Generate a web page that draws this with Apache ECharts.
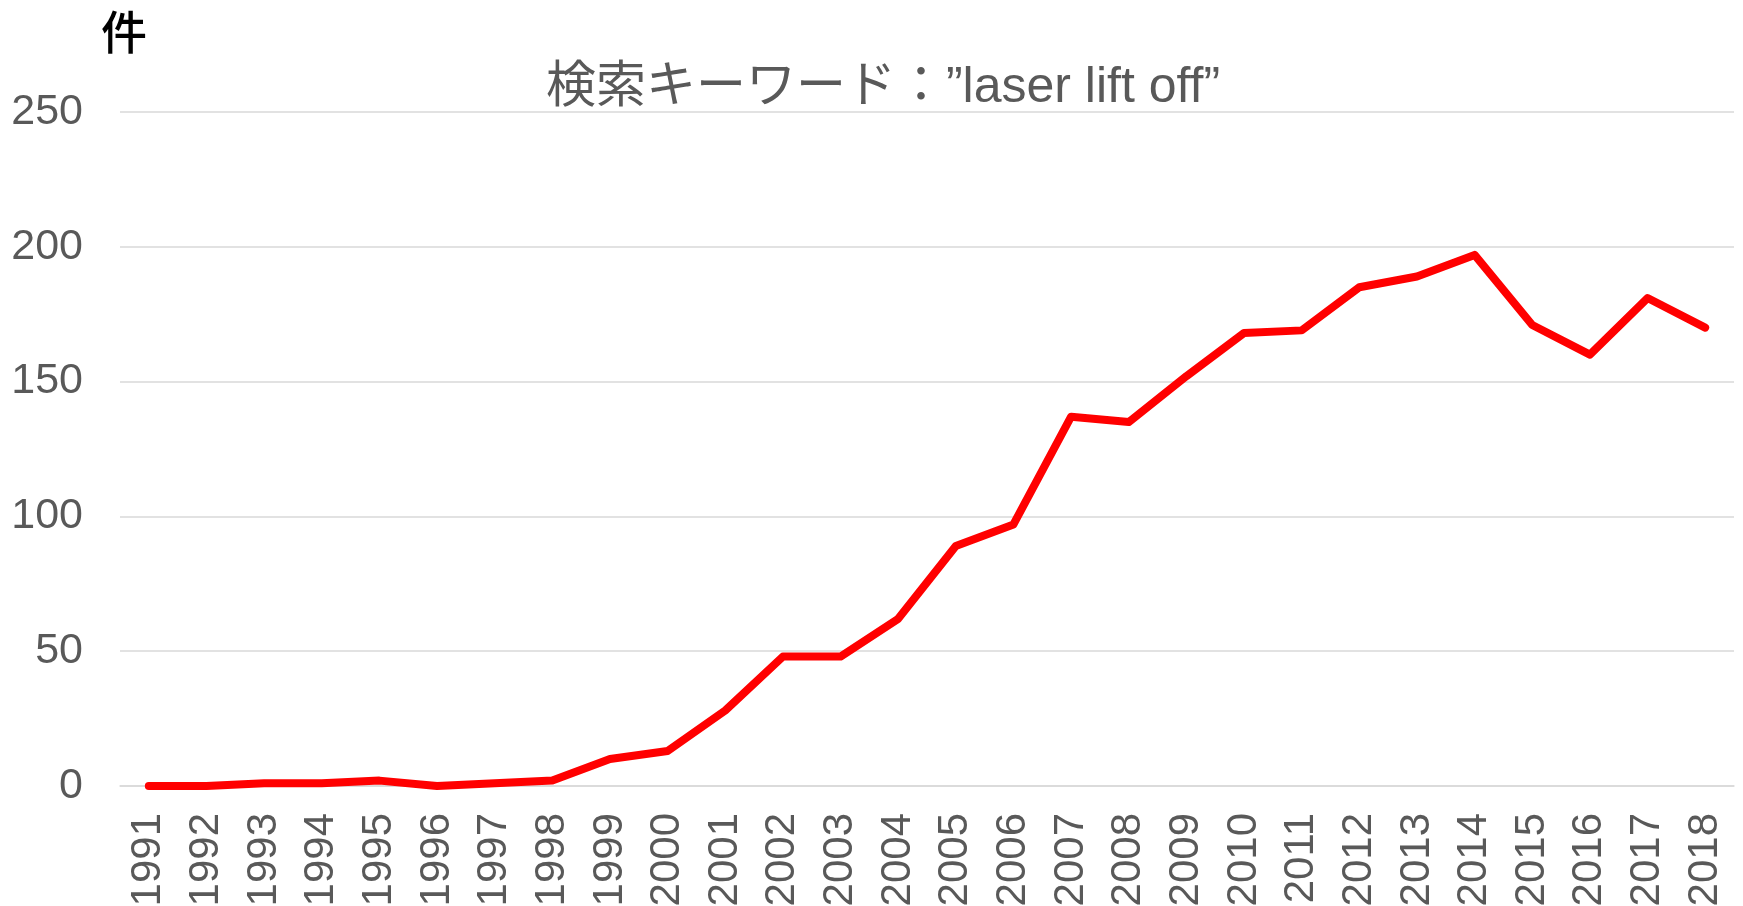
<!DOCTYPE html>
<html>
<head>
<meta charset="utf-8">
<script src="https://cdn.jsdelivr.net/npm/echarts@6/dist/echarts.min.js"></script>
<style>
html,body{margin:0;padding:0;background:#fff;}
#main{width:1743px;height:906px;}
</style>
</head>
<body>
<div id="main"></div>
<script>
// 年（カテゴリ）
const years = ['1991','1992','1993','1994','1995','1996','1997','1998','1999','2000',
    '2001','2002','2003','2004','2005','2006','2007','2008','2009','2010',
    '2011','2012','2013','2014','2015','2016','2017','2018']
// 件数
const counts = [0,0,1,1,2,0,1,2,10,13,
    28,48,48,62,89,97,137,135,152,168,
    169,185,189,197,171,160,181,170]
const yTicks = [0,50,100,150,200,250]

const titleText = '検索キーワード：”laser lift off”'
const unitText = '件'

const myEcharts = echarts.init(document.getElementById('main'))
const option = {
    animation: false,
    title: [
        {
            text: titleText,
            left: 878,
            textAlign: 'center',
            top: 58,
            textStyle: {
                fontFamily: 'Liberation Sans, "Noto Sans CJK JP"',
                fontSize: 50,
                fontWeight: 'normal',
                color: '#595959'
            }
        },
        {
            text: unitText,
            left: 96,
            top: 4,
            textStyle: {
                fontFamily: '"Noto Sans CJK JP"',
                fontSize: 46,
                fontWeight: 500,
                color: '#000'
            }
        }
    ],
    grid: {
        left: 120,
        right: 9,
        top: 112,
        bottom: 120,
        outerBoundsMode: 'none'
    },
    xAxis: {
        type: 'category',
        data: years,
        boundaryGap: true,
        axisLine: {lineStyle: {color: '#d9d9d9', width: 1.5}},
        axisTick: {show: false},
        axisLabel: {
            rotate: 90,
            margin: 27,
            fontFamily: 'Liberation Sans',
            fontSize: 42,
            color: '#595959',
            interval: 0
        }
    },
    yAxis: {
        type: 'value',
        min: yTicks[0],
        max: yTicks[yTicks.length - 1],
        interval: 50,
        axisLine: {show: false},
        axisTick: {show: false},
        splitLine: {lineStyle: {color: '#d9d9d9', width: 1.5}},
        axisLabel: {
            margin: 37,
            fontFamily: 'Liberation Sans',
            fontSize: 43,
            color: '#595959'
        }
    },
    series: [
        {
            type: 'line',
            data: counts,
            showSymbol: false,
            lineStyle: {color: '#ff0000', width: 8, cap: 'round', join: 'round'},
            itemStyle: {color: '#ff0000'}
        }
    ]
}
myEcharts.setOption(option)
window.addEventListener('resize', () => {
    myEcharts.resize()
})
</script>
</body>
</html>
